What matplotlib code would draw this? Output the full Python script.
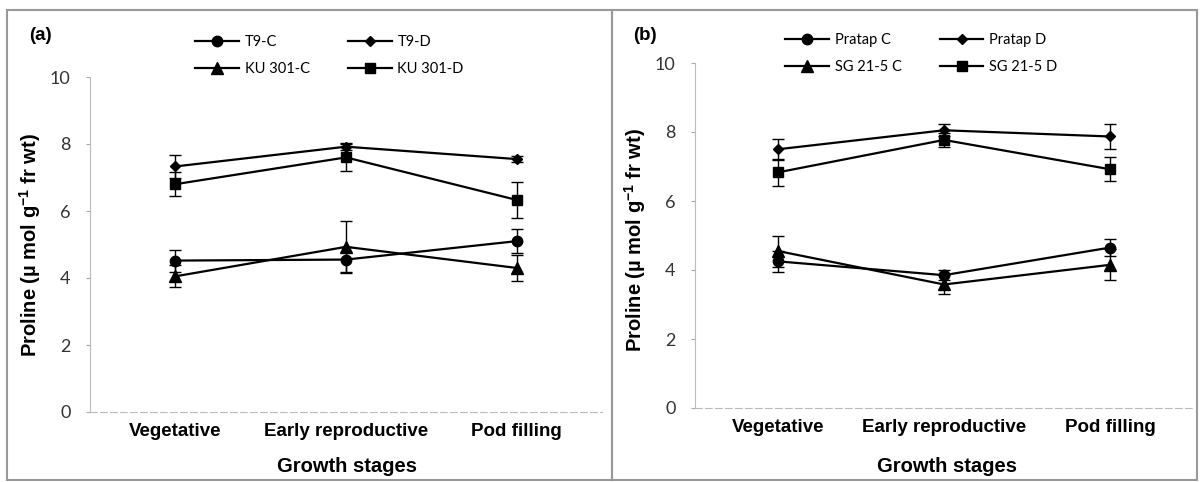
"""Proline content across growth stages, two genotype panels."""

import matplotlib
matplotlib.use("Agg")
import matplotlib.pyplot as plt
from matplotlib.patches import Rectangle

plt.rcParams["mathtext.fontset"] = "custom"
plt.rcParams["mathtext.rm"] = "Liberation Sans"
plt.rcParams["mathtext.bf"] = "Liberation Sans:bold"

stages = ["Vegetative", "Early reproductive", "Pod filling"]

# panel (a)
labels_a = ["T9-C", "T9-D", "KU 301-C", "KU 301-D"]
t9_c = [4.52, 4.55, 5.10]
t9_c_err = [0.33, 0.38, 0.35]
t9_d = [7.33, 7.92, 7.55]
t9_d_err = [0.35, 0.10, 0.10]
ku_c = [4.05, 4.93, 4.30]
ku_c_err = [0.33, 0.78, 0.40]
ku_d = [6.80, 7.60, 6.33]
ku_d_err = [0.35, 0.40, 0.55]

# panel (b)
labels_b = ["Pratap C", "Pratap D", "SG 21-5 C", "SG 21-5 D"]
pratap_c = [4.25, 3.85, 4.65]
pratap_c_err = [0.30, 0.15, 0.25]
pratap_d = [7.50, 8.05, 7.87]
pratap_d_err = [0.30, 0.18, 0.35]
sg_c = [4.55, 3.58, 4.15]
sg_c_err = [0.45, 0.28, 0.45]
sg_d = [6.83, 7.77, 6.92]
sg_d_err = [0.40, 0.20, 0.35]

yticks = [0, 2, 4, 6, 8, 10]
markers = ["o", "D", "^", "s"]
msizes = [7.5, 5, 8, 7.5]

W, H = 1202, 482
fig = plt.figure(figsize=(W / 100, H / 100), dpi=100)


def px(x0, y0, x1, y1):
    return [x0 / W, 1 - y1 / H, (x1 - x0) / W, (y1 - y0) / H]


def draw_panel(ax, series, errs, labels, leg_xy):
    x = range(len(stages))
    handles = []
    for vals, err, mk, ms in zip(series, errs, markers, msizes):
        h = ax.errorbar(x, vals, yerr=err, color="black", marker=mk, ms=ms,
                        lw=1.6, elinewidth=1, capsize=4, capthick=1)
        handles.append(h[0])
    ax.set_xlim(-0.5, 2.5)
    ax.set_ylim(0, 10)
    ax.set_yticks(yticks)
    ax.set_xticks(list(x))
    ax.set_xticklabels(stages, fontfamily="Liberation Sans", fontweight="bold", fontsize=13.5)
    for lab in ax.get_yticklabels():
        lab.set_fontfamily("Lato")
        lab.set_fontsize(13)
        lab.set_color("#333333")
    ax.tick_params(axis="x", length=0, pad=8)
    ax.tick_params(axis="y", length=3, pad=11, color="#aaaaaa")
    for s in ["top", "right"]:
        ax.spines[s].set_visible(False)
    ax.spines["left"].set_color("#bbbbbb")
    ax.spines["bottom"].set_color("#bbbbbb")
    ax.spines["left"].set_linewidth(0.8)
    ax.spines["bottom"].set_linewidth(0.8)
    ax.spines["bottom"].set_linestyle((0, (6, 3)))
    order = [0, 2, 1, 3]
    ax.legend([handles[i] for i in order], [labels[i] for i in order], ncol=2,
              frameon=False, loc="upper left", bbox_to_anchor=leg_xy,
              bbox_transform=fig.transFigure, borderpad=0, handlelength=3.0,
              handletextpad=0.4, columnspacing=2.6, labelspacing=0.85,
              prop={"family": "Lato", "size": 10.5})


ylabel = r"Proline (µ mol g$\mathbf{^{-1}}$ fr wt)"

ax_a = fig.add_axes(px(90, 77, 602, 412))
draw_panel(ax_a, [t9_c, t9_d, ku_c, ku_d], [t9_c_err, t9_d_err, ku_c_err, ku_d_err],
           labels_a, (188 / W, 1 - 28 / H))
ax_b = fig.add_axes(px(695, 63, 1193, 408))
draw_panel(ax_b, [pratap_c, pratap_d, sg_c, sg_d],
           [pratap_c_err, pratap_d_err, sg_c_err, sg_d_err],
           labels_b, (778 / W, 1 - 26 / H))

for xl, yl in [(30, 245), (635, 240)]:
    fig.text(xl / W, 1 - yl / H, ylabel, rotation=90, ha="center", va="center",
             fontfamily="Liberation Sans", fontweight="bold", fontsize=14.5)
for xg, yg in [(347, 466), (947, 467)]:
    fig.text(xg / W, 1 - yg / H, "Growth stages", ha="center", va="center",
             fontfamily="Liberation Sans", fontweight="bold", fontsize=14.5)
for xt, yt, t in [(40, 36, "(a)"), (645, 35, "(b)")]:
    fig.text(xt / W, 1 - yt / H, t, ha="center", va="center",
             fontfamily="Liberation Sans", fontweight="bold", fontsize=13.5)

# panel frames
for x0, x1 in [(7, 612), (612, 1197)]:
    fig.add_artist(Rectangle((x0 / W, 1 - 480 / H), (x1 - x0) / W, 470 / H,
                             transform=fig.transFigure, fill=False,
                             edgecolor="#999999", lw=1.5))

fig.savefig("out.png", dpi=100)
